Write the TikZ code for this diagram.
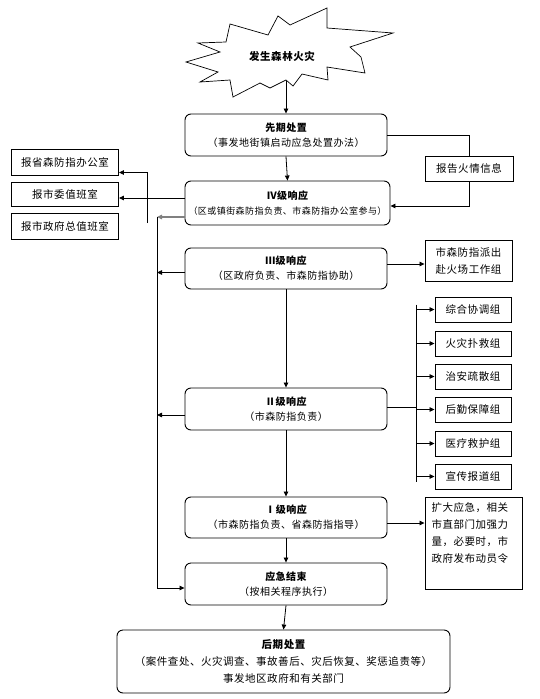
\documentclass[tikz,border=0pt]{standalone}
\usepackage{fontspec}
\setmainfont[LetterSpace=5]{Noto Sans CJK SC}
\usetikzlibrary{arrows.meta}
\tikzset{
  rbox/.style={draw, line width=0.9pt, rounded corners=6pt, align=center, inner sep=0pt, font=\fontsize{10}{15}\selectfont},
  sbox/.style={draw, line width=0.9pt, align=center, inner sep=0pt, font=\fontsize{10.5}{17}\selectfont},
  arr/.style={line width=0.8pt, -{Triangle[length=5pt,width=4.5pt]}},
  ln/.style={line width=0.8pt},
  grp/.style={sbox, minimum width=76pt, minimum height=25pt},
}
\begin{document}
\begin{tikzpicture}[x=1pt,y=-1pt]
\useasboundingbox (0,0) rectangle (540,699);
% star
\draw[line width=0.7pt, line join=miter]
 (198,43) -- (226,42) -- (230,24) -- (268,35) -- (278,16) -- (290,25) -- (327,8) -- (327,28)
 -- (393,33) -- (350,47) -- (361,57) -- (365,73) -- (327,67) -- (328,80) -- (302,74) -- (293,86)
 -- (286,80) -- (270,88) -- (260,83) -- (233,97) -- (230,80) -- (200,82) -- (218,72) -- (186,62)
 -- (220,52) -- cycle;
\node[font=\bfseries\fontsize{10.5}{12}\selectfont] (fire) at (282,56) {发生森林火灾};
\coordinate (firebot) at (286,81);

% main column
\node[rbox, minimum width=202pt, minimum height=42pt] (pre) at (286,135) {{\bfseries 先期处置}\\（事发地街镇启动应急处置办法）};
\node[rbox, minimum width=205pt, minimum height=44pt] (iv) at (287.5,203) {{\bfseries Ⅳ级响应}\\{\fontsize{9}{15}\selectfont （区或镇街森防指负责、市森防指办公室参与）}};
\node[rbox, minimum width=202pt, minimum height=41pt] (iii) at (286,268.5) {{\bfseries Ⅲ级响应}\\（区政府负责、市森防指协助）};
\node[rbox, minimum width=202pt, minimum height=42pt] (ii) at (286,409) {{\bfseries Ⅱ级响应}\\（市森防指负责）};
\node[rbox, minimum width=202pt, minimum height=41pt] (i) at (286,517.5) {{\bfseries Ⅰ级响应}\\（市森防指负责、省森防指指导）};
\node[rbox, minimum width=202pt, minimum height=42pt] (end) at (286,584) {{\bfseries 应急结束}\\（按相关程序执行）};
\node[rbox, minimum width=333pt, minimum height=63pt, font=\fontsize{10.5}{17}\selectfont] (post) at (283.5,661.5) {{\bfseries 后期处置}\\（案件查处、火灾调查、事故善后、灾后恢复、奖惩追责等）\\事发地区政府和有关部门};

% side boxes
\node[sbox, minimum width=88pt, minimum height=25pt] (rep) at (469,168.5) {报告火情信息};
\node[sbox, minimum width=107pt, minimum height=26pt] (prov) at (65,162.5) {报省森防指办公室};
\node[sbox, minimum width=107pt, minimum height=24pt] (cw) at (65,194) {报市委值班室};
\node[sbox, minimum width=107pt, minimum height=26pt] (gov) at (65,226) {报市政府总值班室};
\node[sbox, minimum width=87pt, minimum height=41pt] (wg) at (468.5,260.5) {市森防指派出\\赴火场工作组};
\node[grp] (g1) at (473,309.5) {综合协调组};
\node[grp] (g2) at (473,343.5) {火灾扑救组};
\node[grp] (g3) at (473,376.5) {治安疏散组};
\node[grp] (g4) at (473,409.5) {后勤保障组};
\node[grp] (g5) at (473,443.5) {医疗救护组};
\node[grp] (g6) at (473,476.5) {宣传报道组};
\node[sbox, minimum width=97pt, minimum height=92pt] (exp) at (473.5,543)
  {\parbox[c][92pt][t]{84pt}{\vspace*{6pt}扩大应急，相关\\市直部门加强力\\量，必要时，市\\政府发布动员令}};

% connectors
\draw[arr] (firebot) -- (pre.north);
\draw[ln] (pre.east) -| (rep.north);
\draw[arr] (rep.south) |- ([yshift=-3pt]iv.east);
\draw[arr] (pre.south) -- (iv.north);

\path ([yshift=-4pt]cw.east) coordinate (cwin);
\draw[arr] (iv.west |- cwin) -- (cwin);
\coordinate (lv) at (147,223);
\path ([yshift=-10pt]prov.east) coordinate (provin);
\draw[arr] (lv) |- (provin);

\coordinate (bt) at (157,217);
\coordinate (bb) at (157,588);
\draw[arr, draw=gray, fill=gray, line width=1.1pt] ([yshift=-14pt]iv.west) -- (bt);
\draw[ln] (bt) -- (bb);
\path ([yshift=-4pt]iii.west) coordinate (iiiw);
\draw[arr] (iiiw) -- (iiiw -| bt);
\path ([yshift=-6pt]ii.west) coordinate (iiw);
\draw[arr] (iiw) -- (iiw -| bt);
\path ([yshift=-4pt]end.west) coordinate (endw);
\draw[arr] (bb) -- (endw);

\path ([yshift=4.5pt]iii.east) coordinate (iiie);
\draw[arr] (iiie) -- (iiie -| wg.west);
\draw[arr] (iii.south) -- (ii.north);

\coordinate (vx) at (416,407);
\draw[ln] ([yshift=2pt]ii.east) -- (vx);
\draw[ln] ([yshift=5pt]vx |- g1.west) -- ([yshift=-5pt]vx |- g6.west);
\foreach \g in {g1,g2,g3,g4,g5,g6} { \draw[arr] (vx |- \g.west) -- (\g.west); }

\draw[arr] (ii.south) -- (i.north);
\path ([yshift=-5.5pt]i.east) coordinate (ie);
\draw[arr] (ie) -- (ie -| exp.west);
\draw[arr] (i.south) -- (end.north);
\draw[arr] (end.south) -- (post.north);
\end{tikzpicture}
\end{document}
